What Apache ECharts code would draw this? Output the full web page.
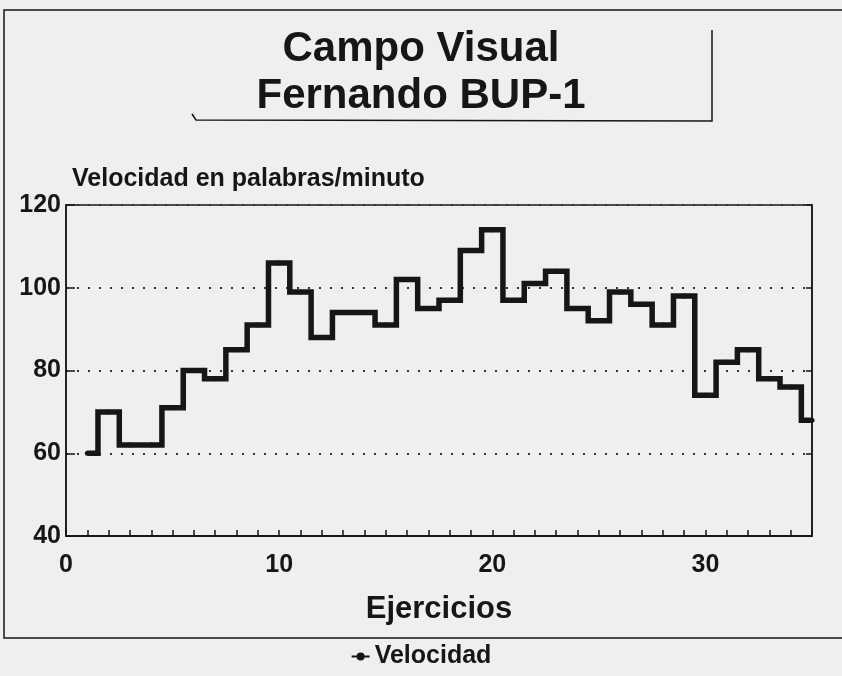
<!DOCTYPE html>
<html>
<head>
<meta charset="utf-8">
<script src="https://cdn.jsdelivr.net/npm/echarts@6/dist/echarts.min.js"></script>
<style>
  html, body { margin: 0; padding: 0; background: #efefed; }
  #main { width: 842px; height: 676px; }
</style>
</head>
<body>
<div id="main"></div>
<script>
// datos
var ejercicios = [1, 2, 3, 4, 5, 6, 7, 8, 9, 10, 11, 12, 13, 14, 15, 16, 17, 18,
  19, 20, 21, 22, 23, 24, 25, 26, 27, 28, 29, 30, 31, 32, 33, 34, 35];
var velocidad = [60, 70, 62, 62, 71, 80, 78, 85, 91, 106, 99, 88, 94, 94, 91, 102, 95, 97,
  109, 114, 97, 101, 104, 95, 92, 99, 96, 91, 98, 74, 82, 85, 78, 76, 68];
var xEtiquetas = [0, 10, 20, 30];

var fuente = 'Liberation Sans, Arial, sans-serif';
var negro = '#161616';

var myChart = echarts.init(document.getElementById('main'));

var puntos = ejercicios.map(function (x, i) { return [x, velocidad[i]]; });

var option = {
  backgroundColor: '#efefed',
  animation: false,
  textStyle: { fontFamily: fuente, color: negro },
  title: {
    text: 'Campo Visual\nFernando BUP-1',
    left: 'center',
    top: 21,
    textStyle: {
      fontSize: 42,
      fontWeight: 'bold',
      lineHeight: 47,
      color: negro,
      fontFamily: fuente
    }
  },
  legend: {
    data: ['Velocidad'],
    bottom: 2,
    left: 'center',
    itemWidth: 18,
    itemHeight: 10,
    itemGap: 6,
    textStyle: { fontSize: 25, fontWeight: 'bold', color: negro, fontFamily: fuente }
  },
  grid: {
    left: 66,
    right: 30,
    top: 205,
    bottom: 140,
    show: true,
    borderColor: negro,
    borderWidth: 1.5
  },
  xAxis: {
    type: 'value',
    min: 0,
    max: 35,
    interval: 1,
    name: 'Ejercicios',
    nameLocation: 'middle',
    nameGap: 58,
    nameTextStyle: { fontSize: 31, fontWeight: 'bold', color: negro, fontFamily: fuente },
    axisLine: { lineStyle: { color: negro, width: 2 } },
    axisTick: { inside: true, length: 6, lineStyle: { color: negro, width: 1.5 } },
    axisLabel: {
      fontSize: 25,
      fontWeight: 'bold',
      color: negro,
      margin: 17,
      formatter: function (v) { return xEtiquetas.indexOf(v) >= 0 ? String(v) : ''; }
    },
    splitLine: { show: false }
  },
  yAxis: [
    {
      type: 'value',
      min: 40,
      max: 120,
      interval: 20,
      name: 'Velocidad en palabras/minuto',
      nameLocation: 'end',
      nameGap: 13,
      nameTextStyle: {
        fontSize: 25, fontWeight: 'bold', color: negro, fontFamily: fuente,
        align: 'left', padding: [0, 0, 0, 6]
      },
      axisLine: { show: true, lineStyle: { color: negro, width: 1.5 } },
      axisTick: { inside: true, length: 9, lineStyle: { color: negro, width: 1.5 } },
      axisLabel: { fontSize: 25, fontWeight: 'bold', color: negro, margin: 5 },
      splitLine: { show: true, lineStyle: { color: '#333', width: 2, type: [2, 9] } }
    },
    {
      type: 'value',
      min: 40,
      max: 120,
      interval: 20,
      position: 'right',
      axisLine: { show: true, lineStyle: { color: negro, width: 1.5 } },
      axisTick: { inside: true, length: 6, lineStyle: { color: negro, width: 1.5 } },
      axisLabel: { show: false },
      splitLine: { show: false }
    }
  ],
  graphic: [
    {
      type: 'rect',
      shape: { x: 4, y: 10, width: 860, height: 628 },
      style: { fill: 'none', stroke: negro, lineWidth: 1.5 },
      silent: true
    },
    {
      type: 'polyline',
      shape: { points: [[192, 114], [196, 120], [712, 121], [712, 30]] },
      style: { fill: 'none', stroke: negro, lineWidth: 1.5 },
      silent: true
    }
  ],
  series: [
    {
      name: 'Velocidad',
      type: 'line',
      step: 'middle',
      data: puntos,
      symbol: 'circle',
      symbolSize: 5,
      showSymbol: true,
      lineStyle: { color: negro, width: 5.5, join: 'miter' },
      itemStyle: { color: negro }
    }
  ]
};

myChart.setOption(option);
window.onresize = function () {
  myChart.resize();
};
</script>
</body>
</html>
